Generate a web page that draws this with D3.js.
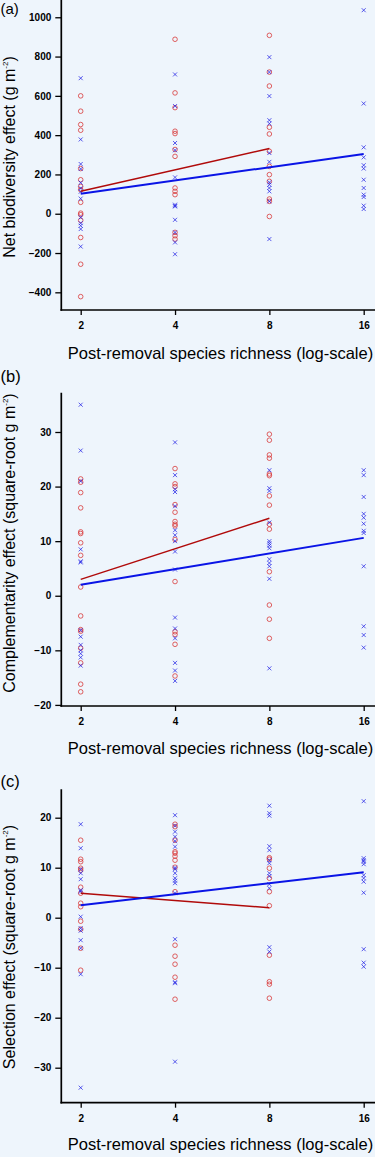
<!DOCTYPE html>
<html><head><meta charset="utf-8">
<script src="https://cdn.jsdelivr.net/npm/d3@7"></script>
<style>html,body{margin:0;padding:0;background:#eef5fc;}svg{display:block;}</style>
</head><body>
<script>
// ---------- DATA ----------
const richness = [2, 4, 8, 16];

// Panel (a): Net biodiversity effect (g m-2)
const netRed = [
  [2, [600, 522, 454, 425, 230, 173, 139, 122, 58, 3, -5, -34, -121, -257, -422]],
  [4, [888, 615, 540, 420, 408, 327, 292, 131, 114, 97, -95, -112, -129]],
  [8, [908, 721, 650, 440, 406, 318, 241, 199, 165, 75, 63, -14]]
];
const netBlue = [
  [2, [690, 378, 253, 228, 158, 130, 112, 77, -18, -48, -61, -78, -167]],
  [4, [709, 548, 360, 323, 185, 46, 40, 37, -31, -95, -146, -206]],
  [8, [797, 721, 599, 476, 459, 309, 264, 160, 148, 131, 114, 63, -129]],
  [16, [1036, 561, 338, 287, 247, 230, 173, 131, 97, 85, 41, 24]]
];
const netFitRed = [[2, 114], [8, 332]];
const netFitBlue = [[2, 102], [16, 304]];
const netTicks = [-400, -200, 0, 200, 400, 600, 800, 1000];

// Panel (b): Complementarity effect (square-root g m-2)
const compRed = [
  [2, [21.4, 20.8, 18.9, 16.1, 11.7, 11.4, 9.7, 7.4, 1.6, -3.7, -6.2, -6.5, -9.6, -12.3, -16.2, -17.6]],
  [4, [23.3, 20.5, 20.0, 16.7, 15.3, 13.6, 13.1, 12.8, 10.3, 2.6, -6.6, -7.1, -8.9, -14.7]],
  [8, [29.6, 28.5, 25.8, 25.2, 22.3, 22.0, 18.3, 16.6, 13.1, 12.2, 4.4, -1.7, -4.3, -7.8]]
];
const compBlue = [
  [2, [35.0, 26.6, 21.0, 8.5, 6.3, 6.1, -6.3, -7.5, -9.0, -10.0, -10.6, -11.3, -12.8]],
  [4, [28.1, 22.1, 19.5, 19.0, 16.4, 12.0, 11.1, 10.0, 8.1, 4.8, -4.0, -6.0, -7.8, -12.3, -13.7, -15.6]],
  [8, [23.0, 19.7, 19.2, 13.4, 10.0, 9.6, 9.2, 8.7, 6.7, 6.0, 5.4, 3.1, -13.3]],
  [16, [23.0, 22.1, 18.1, 15.0, 14.3, 13.2, 11.9, 11.5, 5.4, -5.6, -7.2, -9.5]]
];
const compFitRed = [[2, 3.0], [8, 14.2]];
const compFitBlue = [[2, 2.0], [16, 10.6]];
const compTicks = [-20, -10, 0, 10, 20, 30];

// Panel (c): Selection effect (square-root g m-2)
const selRed = [
  [2, [15.5, 11.7, 11.2, 9.9, 9.5, 6.1, 4.9, 2.9, 2.2, -0.7, -2.3, -6.1, -10.5]],
  [4, [18.7, 18.2, 15.5, 13.2, 12.9, 12.3, 11.5, 10.1, 5.2, -5.5, -7.7, -9.3, -11.9, -16.3]],
  [8, [12.0, 11.7, 9.9, 7.9, 5.2, 2.4, -7.5, -12.8, -13.3, -16.1]]
];
const selBlue = [
  [2, [18.7, 13.9, 9.7, 8.9, 7.7, 5.5, 5.2, 0.2, -2.1, -2.6, -4.5, -6.1, -11.3, -34.0]],
  [4, [20.5, 18.4, 17.2, 16.2, 15.3, 14.2, 10.0, 9.7, 8.9, 7.9, 7.4, 6.9, 4.9, -4.3, -12.9, -13.1, -28.8]],
  [8, [22.4, 20.9, 20.4, 14.3, 13.5, 11.5, 10.9, 8.9, 8.3, 6.7, 5.9, -5.9, -6.8]],
  [16, [23.3, 11.9, 11.5, 11.2, 10.7, 8.5, 7.9, 7.2, 5.0, -6.3, -9.0, -9.8]]
];
const selFitRed = [[2, 4.9], [8, 2.0]];
const selFitBlue = [[2, 2.5], [16, 9.1]];
const selTicks = [-30, -20, -10, 0, 10, 20];

const xTitle = "Post-removal species richness (log-scale)";

// ---------- LAYOUT ----------
const W = 375, H = 1157;
const FONT = "'Liberation Sans', Arial, Helvetica, sans-serif";
const axisLeftX = 61.3, axisRightX = 376;
const x = d3.scaleLog().base(2).domain([2, 16]).range([80.7, 363.7]);

const panels = [
  { tag: "(a)", tagY: 13.8, tagSize: 15, red: netRed, blue: netBlue, fitRed: netFitRed, fitBlue: netFitBlue, ticks: netTicks,
    ylab: ["Net biodiversity effect (g m", "-2", ")"], y0: -1, y1: 310, dom: [-490, 1093], ylabY: 157, titleY: 358.5 },
  { tag: "(b)", tagY: 381.5, tagSize: 16.5, red: compRed, blue: compBlue, fitRed: compFitRed, fitBlue: compFitBlue, ticks: compTicks,
    ylab: ["Complementarity effect (square-root g m", "-2", ")"], y0: 392.7, y1: 706, dom: [-20.2, 37.2], ylabY: 543, titleY: 753.5 },
  { tag: "(c)", tagY: 786.5, tagSize: 16.5, red: selRed, blue: selBlue, fitRed: selFitRed, fitBlue: selFitBlue, ticks: selTicks,
    ylab: ["Selection effect (square-root g m", "-2", ")"], y0: 789.3, y1: 1102.7, dom: [-37, 25.68], ylabY: 947, titleY: 1150 }
];

const svg = d3.select("body").append("svg").attr("width", W).attr("height", H);
svg.append("rect").attr("width", W).attr("height", H).attr("fill", "#eef5fc");

const flat = arr => arr.flatMap(([r, vals]) => vals.map(v => [r, v]));

panels.forEach(p => {
  const g = svg.append("g");
  const y = d3.scaleLinear().domain(p.dom).range([p.y1, p.y0]);

  // panel tag
  g.append("text").attr("x", 0.5).attr("y", p.tagY).attr("font-family", FONT).attr("font-size", p.tagSize)
    .attr("fill", "#000").text(p.tag);

  // axes
  const ya = g.append("g").attr("transform", `translate(${axisLeftX},0)`)
    .call(d3.axisLeft(y).tickValues(p.ticks).tickSize(6).tickPadding(4).tickFormat(d3.format("d")));
  ya.select(".domain").remove();
  ya.selectAll("text").attr("font-family", FONT).attr("font-size", 10).attr("font-weight", "bold").attr("fill", "#000");
  ya.selectAll("line").attr("stroke", "#000").attr("stroke-width", 1.3);

  const xa = g.append("g").attr("transform", `translate(0,${p.y1})`)
    .call(d3.axisBottom(x).tickValues(richness).tickSize(5).tickPadding(7).tickFormat(d3.format("d")));
  xa.select(".domain").remove();
  xa.selectAll("text").attr("font-family", FONT).attr("font-size", 10).attr("font-weight", "bold").attr("fill", "#000");
  xa.selectAll("line").attr("stroke", "#000").attr("stroke-width", 1.3);

  g.append("line").attr("x1", axisLeftX).attr("x2", axisLeftX).attr("y1", p.y0).attr("y2", p.y1 + 0.8)
    .attr("stroke", "#000").attr("stroke-width", 1.7);
  g.append("line").attr("x1", axisLeftX - 0.85).attr("x2", axisRightX).attr("y1", p.y1).attr("y2", p.y1)
    .attr("stroke", "#000").attr("stroke-width", 1.7);

  // y title
  const yt = g.append("text").attr("transform", `translate(15,${p.ylabY}) rotate(-90)`)
    .attr("text-anchor", "middle").attr("font-family", FONT).attr("font-size", 16).attr("fill", "#000");
  yt.append("tspan").text(p.ylab[0]);
  yt.append("tspan").attr("font-size", 8).attr("dy", -7).text(p.ylab[1]);
  yt.append("tspan").attr("dy", 7).text(p.ylab[2]);

  // x title
  g.append("text").attr("x", 220.5).attr("y", p.titleY).attr("text-anchor", "middle")
    .attr("font-family", FONT).attr("font-size", 16.5).attr("fill", "#000").text(xTitle);

  // red circles
  g.append("g").selectAll("circle").data(flat(p.red)).join("circle")
    .attr("cx", d => x(d[0])).attr("cy", d => y(d[1])).attr("r", 2.3)
    .attr("fill", "none").attr("stroke", "#d83232").attr("stroke-width", 0.9).attr("stroke-opacity", 0.85);

  // blue crosses
  const s = 2;
  g.append("g").selectAll("path").data(flat(p.blue)).join("path")
    .attr("d", d => {
      const cx = x(d[0]), cy = y(d[1]);
      return `M${cx - s},${cy - s}L${cx + s},${cy + s}M${cx - s},${cy + s}L${cx + s},${cy - s}`;
    })
    .attr("fill", "none").attr("stroke", "#2828e6").attr("stroke-width", 0.9).attr("stroke-opacity", 0.85);

  // fitted lines
  const line = d3.line().x(d => x(d[0])).y(d => y(d[1]));
  g.append("path").datum(p.fitRed).attr("d", line).attr("fill", "none").attr("stroke", "#b00a0a").attr("stroke-width", 1.5);
  g.append("path").datum(p.fitBlue).attr("d", line).attr("fill", "none").attr("stroke", "#0a14e6").attr("stroke-width", 2);
});
</script>
</body></html>
